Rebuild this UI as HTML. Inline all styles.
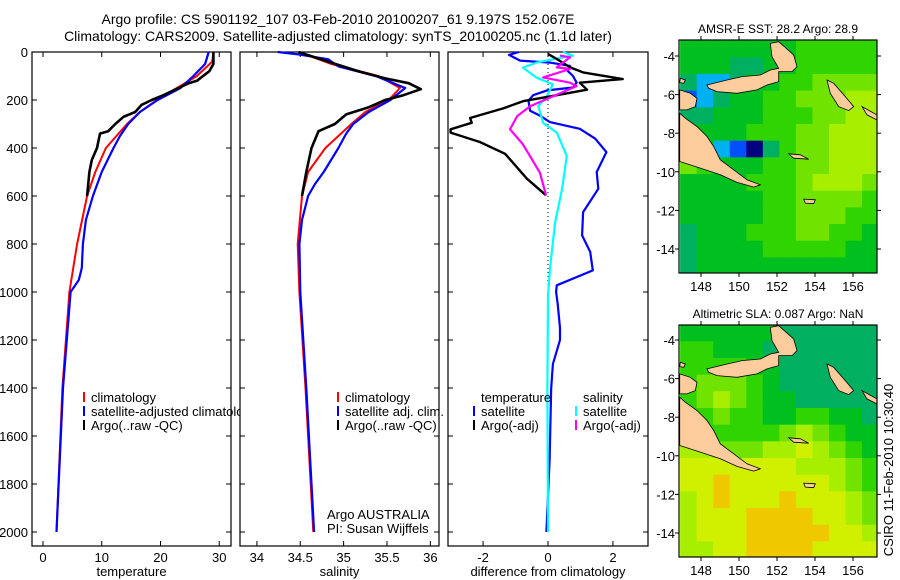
<!DOCTYPE html>
<html><head><meta charset="utf-8"><style>
html,body{margin:0;padding:0;background:#fff;}
svg{display:block;font-family:"Liberation Sans",sans-serif;}
</style></head><body>
<svg id="fig" width="900" height="580" viewBox="0 0 900 580" xmlns="http://www.w3.org/2000/svg">
<defs>
<clipPath id="cp1"><rect x="32" y="52" width="208" height="494"/></clipPath>
<clipPath id="cpm1"><rect x="679" y="40" width="198" height="233"/></clipPath>
<clipPath id="cpm2"><rect x="679" y="325" width="198" height="232"/></clipPath>
</defs>
<text x="338" y="24" font-size="14" text-anchor="middle">Argo profile: CS 5901192_107 03-Feb-2010 20100207_61 9.197S 152.067E</text>
<text x="338" y="41" font-size="14" text-anchor="middle">Climatology: CARS2009. Satellite-adjusted climatology: synTS_20100205.nc (1.1d later)</text>
<g id="g1"></g>
<g id="g2"></g>
<g id="g3"></g>
<g id="m1"></g>
<g id="m2"></g>
<text transform="translate(893,470) rotate(-90)" font-size="13" text-anchor="middle">CSIRO 11-Feb-2010 10:30:40</text>
</svg>
<script>
// ---- profile data ----
const tClimDepth=[0,40,100,150,200,250,300,400,500,600,800,1000,1400,2000];
const tClim=[29.0,28.8,26.2,22.8,19.4,16.5,14.3,10.7,8.9,7.5,5.8,4.5,3.3,2.3];
const tSatDepth=[0,50,100,150,200,250,300,350,400,500,600,700,800,900,950,1000,1400,2000];
const tSat=[28.2,27.6,25.6,23.4,19.5,16.5,14.5,13.1,12.0,10.0,8.5,7.3,6.8,6.6,6.1,4.7,3.4,2.3];
const tArgoDepth=[0,50,80,120,130,180,200,220,250,270,300,330,340,400,450,500,600];
const tArgo=[29.0,29.0,28.3,26.2,24.8,20.5,18.5,16.8,15.7,13.7,12.3,11.1,9.7,9.2,8.3,7.9,7.5];

const sClimDepth=[0,30,50,100,150,200,250,300,400,500,600,800,1000,1400,2000];
const sClim=[34.48,34.71,34.86,35.40,35.65,35.52,35.25,35.09,34.79,34.59,34.52,34.47,34.49,34.56,34.65];
const sSatDepth=[0,10,30,60,100,150,200,250,300,340,400,500,550,600,700,800,1000,1400,2000];
const sSat=[34.24,34.48,34.82,34.94,35.37,35.71,35.54,35.29,35.11,35.03,34.94,34.77,34.67,34.59,34.52,34.49,34.50,34.57,34.66];
const sArgoDepth=[0,40,80,110,130,155,180,200,230,260,300,330,400,500,600];
const sArgo=[34.48,34.82,35.17,35.48,35.75,35.89,35.69,35.48,35.29,35.03,34.90,34.71,34.63,34.57,34.52];

const dTSatDepth=[0,12,36,44,58,78,100,128,148,160,180,203,245,265,292,320,361,417,500,570,667,764,833,910,972,1000,1050,1150,1200,1300,1400,1700,2000];
const dTSat=[-0.9,-1.2,-0.86,0.06,0.68,0.6,0.77,0.88,0.77,-0.03,-0.46,-0.6,-0.55,-0.25,0.06,0.98,1.45,1.8,1.5,1.55,1.08,1.05,1.3,1.38,0.27,0.25,0.3,0.37,0.37,0.15,0.1,0.05,-0.05];
const dSSatDepth=[0,15,44,65,107,135,183,225,295,336,433,572,711,905,1017,1400,2000];
const dSSat=[0.46,0.77,-0.35,-0.77,-0.35,0.15,-0.03,-0.3,-0.15,0.27,0.58,0.43,0.22,0.06,0.0,-0.02,0.0];
const dTArgoDepth=[8,29,64,85,113,128,157,185,205,235,275,295,322,336,375,424,528,597];
const dTArgo=[0,0.27,0.68,1.08,2.3,0.98,1.2,0.06,-0.77,-1.38,-2.4,-2.35,-3.0,-3.0,-2.1,-1.32,-0.65,-0.06];
const dSArgoDepth=[15,22,64,71,106,128,142,185,226,267,322,385,503,597];
const dSArgo=[0.37,0.68,0.27,0.68,-0.15,0.68,0.88,0.15,-0.55,-0.95,-1.17,-0.77,-0.25,-0.06];

const depthTicks=[0,200,400,600,800,1000,1200,1400,1600,1800,2000];
const tTicks=[0,10,20,30];
const sTicks=[34,34.5,35,35.5,36];
const dTicks=[-2,0,2];

// ---- map data (palette indices) ----
const sstGrid=[
[4,4,4,4,4,4,4,5,5,5,5,5],
[4,4,4,3,3,4,4,5,5,5,5,5],
[3,2,2,3,4,4,5,5,6,6,6,6],
[1,2,3,4,4,5,5,6,6,6,7,7],
[3,3,4,4,4,5,5,5,6,6,7,7],
[4,4,4,4,5,5,5,6,6,7,7,7],
[4,4,2,1,0,3,5,6,6,7,7,7],
[6,5,4,4,4,5,5,6,6,7,7,7],
[4,4,4,4,5,5,5,6,7,7,7,6],
[4,4,4,4,4,5,5,6,6,6,6,5],
[4,4,4,4,4,5,5,6,6,6,5,5],
[3,4,4,4,5,5,5,6,6,5,5,4],
[3,4,4,4,4,5,5,5,5,5,4,4],
[3,4,4,4,4,4,4,4,4,4,4,4]];
const slaGrid=[
[4,4,4,4,4,4,3,3,3,3,3,3],
[5,5,4,4,4,3,3,3,3,3,3,3],
[5,5,5,5,4,4,3,3,3,3,3,3],
[5,6,6,6,5,4,3,3,3,3,3,3],
[5,6,7,6,5,4,4,3,3,3,3,3],
[5,5,6,5,5,4,4,5,5,4,4,3],
[5,5,5,5,5,5,6,7,6,5,4,4],
[7,7,6,6,6,7,7,8,7,6,5,4],
[8,8,8,8,8,8,8,7,7,7,6,5],
[8,8,9,8,8,8,8,8,8,7,6,5],
[7,8,9,8,8,8,9,8,8,8,7,6],
[7,8,8,8,9,9,9,9,8,8,7,6],
[7,8,8,8,9,9,9,9,9,8,8,7],
[7,7,8,8,9,9,9,9,8,8,8,8]];
const palette=["#000080","#0050ff","#00b0f0","#00b060","#00c020","#30d400","#70e400","#a8ee00","#d0f000","#f0c800","#f0a800"];
const latTicks=[-4,-6,-8,-10,-12,-14];
const lonTicks=[148,150,152,154,156];

const NS="http://www.w3.org/2000/svg";
function mk(tag,attrs,parent){const e=document.createElementNS(NS,tag);for(const k in attrs)e.setAttribute(k,attrs[k]);parent.appendChild(e);return e;}

const yTop=52,yBot=546;
function yD(d){return 52+d*0.24;}

function panel(g,x0,x1,xmin,xmax,xticks,xlabel,showY){
  const sx=v=>x0+(v-xmin)/(xmax-xmin)*(x1-x0);
  const fr=mk('rect',{x:x0,y:yTop,width:x1-x0,height:yBot-yTop,fill:'#fff',stroke:'#000','stroke-width':1.2},g);
  
  
  depthTicks.forEach(d=>{
    mk('line',{x1:x0,x2:x0+5,y1:yD(d),y2:yD(d),stroke:'#000'},g);
    mk('line',{x1:x1,x2:x1-5,y1:yD(d),y2:yD(d),stroke:'#000'},g);
    if(showY){const t=mk('text',{x:x0-4,y:yD(d)+5,'font-size':13,'text-anchor':'end'},g);t.textContent=d;
      
      }
  });
  xticks.forEach(v=>{
    const x=sx(v);
    mk('line',{x1:x,x2:x,y1:yTop,y2:yTop+5,stroke:'#000'},g);
    mk('line',{x1:x,x2:x,y1:yBot,y2:yBot-5,stroke:'#000'},g);
    const t=mk('text',{x:x,y:562,'font-size':13,'text-anchor':'middle'},g);t.textContent=v;
    
    
  });
  const xl=mk('text',{x:(x0+x1)/2,y:576,'font-size':13,'text-anchor':'middle'},g);xl.textContent=xlabel;
  
  
  return sx;
}
function line(g,sx,depths,vals,color,w,name){
  const pts=depths.map((d,i)=>sx(vals[i]).toFixed(1)+','+yD(d).toFixed(1)).join(' ');
  const p=mk('polyline',{points:pts,fill:'none',stroke:color,'stroke-width':w,'stroke-linejoin':'round'},g);
  
  
}
function legend(g,x,y,color,label){
  mk('line',{x1:x,x2:x,y1:y-10,y2:y,stroke:color,'stroke-width':2},g);
  const t=mk('text',{x:x+7,y:y,'font-size':13},g);t.textContent=label;
  
  
}

// panel 1
const g1=document.getElementById('g1');
const sx1=panel(g1,32,231,-1.87,32.0,tTicks,'temperature',true);
line(g1,sx1,tClimDepth,tClim,'#ff0000',2,'temperature-climatology-line');
line(g1,sx1,tSatDepth,tSat,'#0000ff',2.2,'temperature-satellite-line');
line(g1,sx1,tArgoDepth,tArgo,'#000000',2.6,'temperature-argo-line');
// panel 2
const g2=document.getElementById('g2');
const sx2=panel(g2,240,439,33.805,36.1,sTicks,'salinity',false);
line(g2,sx2,sClimDepth,sClim,'#ff0000',2,'salinity-climatology-line');
line(g2,sx2,sSatDepth,sSat,'#0000ff',2.2,'salinity-satellite-line');
line(g2,sx2,sArgoDepth,sArgo,'#000000',2.6,'salinity-argo-line');
legend(g2,338,402,'#ff0000','climatology');
legend(g2,338,416,'#0000ff','satellite adj. clim.');
legend(g2,338,430,'#000000','Argo(..raw -QC)');
let t=mk('text',{x:327,y:519,'font-size':13},g2);t.textContent='Argo AUSTRALIA';


t=mk('text',{x:327,y:533,'font-size':13},g2);t.textContent='PI: Susan Wijffels';


// legend panel 1 (clipped at panel 2 edge)
const lg1=mk('g',{'clip-path':'url(#cp1)'},g1);


legend(lg1,84,402,'#ff0000','climatology');
legend(lg1,84,416,'#0000ff','satellite-adjusted climatology');
legend(lg1,84,430,'#000000','Argo(..raw -QC)');
// panel 3
const g3=document.getElementById('g3');
const sx3=panel(g3,448,648,-3.08,3.08,dTicks,'difference from climatology',false);
mk('line',{x1:sx3(0),x2:sx3(0),y1:yTop,y2:yD(2000),stroke:'#000','stroke-dasharray':'1,3'},g3);
line(g3,sx3,dTSatDepth,dTSat,'#0000ff',2.2,'temp-satellite-diff-line');
line(g3,sx3,dSSatDepth,dSSat,'#00ffff',2.2,'sal-satellite-diff-line');
line(g3,sx3,dTArgoDepth,dTArgo,'#000000',2.4,'temp-argo-diff-line');
line(g3,sx3,dSArgoDepth,dSArgo,'#ff00ff',2.2,'sal-argo-diff-line');
t=mk('text',{x:481,y:402,'font-size':13},g3);t.textContent='temperature';


t=mk('text',{x:583,y:402,'font-size':13},g3);t.textContent='salinity';


legend(g3,474,416,'#0000ff','satellite');
legend(g3,474,430,'#000000','Argo(-adj)');
legend(g3,576,416,'#00ffff','satellite');
legend(g3,576,430,'#ff00ff','Argo(-adj)');

// ---- maps ----
// land polygons in reference-zoom coords -> lon/lat
const landZ=[
 [[140,255],[200,240],[245,230],[300,225],[330,210],[355,205],[335,170],[330,130],[355,125],[400,165],[410,200],[395,215],[355,215],[355,245],[320,255],[290,270],[230,280],[170,275],[145,265]],
 [[58,270],[90,280],[110,295],[105,320],[80,330],[58,330]],
 [[58,340],[75,355],[110,380],[140,410],[160,440],[180,480],[220,510],[260,540],[300,555],[280,562],[230,548],[180,525],[120,505],[58,485]],
 [[500,240],[520,250],[555,290],[580,320],[565,332],[535,320],[510,280]],
 [[605,320],[650,345],[650,360],[620,345]],
 [[385,462],[420,465],[445,478],[400,475]],
 [[430,598],[465,600],[460,612],[435,610]],
 [[60,235],[75,240],[70,250],[58,248]]
];
function zlon(zx){return 148+(zx-122)/57;}
function zlat(zy){return -4-(zy-168)/58;}
function drawMap(gid,grid,top,bot,latY4,title,clip,rightTicks){
  const g=document.getElementById(gid);
  const x0=679,x1=877;
  const lx=lon=>701+(lon-148)*19.0;
  const ly=lat=>latY4+(-4-lat)*19.3;
  const cg=mk('g',{'clip-path':'url(#'+clip+')'},g);
  const lon0=146.9,lon1=157.35,lat0=-3.2,lat1=-15.3;
  const nr=grid.length,nc=grid[0].length;
  const cw=(lon1-lon0)/nc,ch=(lat0-lat1)/nr;
  grid.forEach((row,r)=>row.forEach((v,c)=>{
    const xa=lx(lon0+c*cw),ya=ly(lat0-r*ch);
    const cell=mk('rect',{x:xa,y:ya,width:lx(lon0+(c+1)*cw)-xa+0.5,height:ly(lat0-(r+1)*ch)-ya+0.5,fill:palette[v]},cg);
    
    
  }));
  landZ.forEach(poly=>{
    const pts=poly.map(p=>lx(zlon(p[0])).toFixed(1)+','+ly(zlat(p[1])).toFixed(1)).join(' ');
    const pl=mk('polygon',{points:pts,fill:'#fccc9c',stroke:'#000','stroke-width':0.8},cg);
    
    
  });
  mk('rect',{x:x0,y:top,width:x1-x0,height:bot-top,fill:'none',stroke:'#000','stroke-width':1.2},g);
  latTicks.forEach(la=>{
    const y=ly(la);
    mk('line',{x1:x0,x2:x0-4,y1:y,y2:y,stroke:'#000'},g);
    mk('line',{x1:x1,x2:x1+4,y1:y,y2:y,stroke:'#000'},g);
    const tt=mk('text',{x:675,y:y+5,'font-size':13,'text-anchor':'end'},g);tt.textContent=la;
    
    
  });
  lonTicks.forEach(lo=>{
    const x=lx(lo);
    mk('line',{x1:x,x2:x,y1:top,y2:top-4,stroke:'#000'},g);
    mk('line',{x1:x,x2:x,y1:bot,y2:bot+4,stroke:'#000'},g);
    const tt=mk('text',{x:x,y:bot+18,'font-size':13,'text-anchor':'middle'},g);tt.textContent=lo;
    
    
  });
  const ti=mk('text',{x:778,y:top-7,'font-size':12,'text-anchor':'middle'},g);ti.textContent=title;
  
  
}
drawMap('m1',sstGrid,40,273,56,'AMSR-E SST: 28.2 Argo: 28.9','cpm1');
drawMap('m2',slaGrid,325,557,340,'Altimetric SLA: 0.087 Argo: NaN','cpm2');
</script>
</body></html>
